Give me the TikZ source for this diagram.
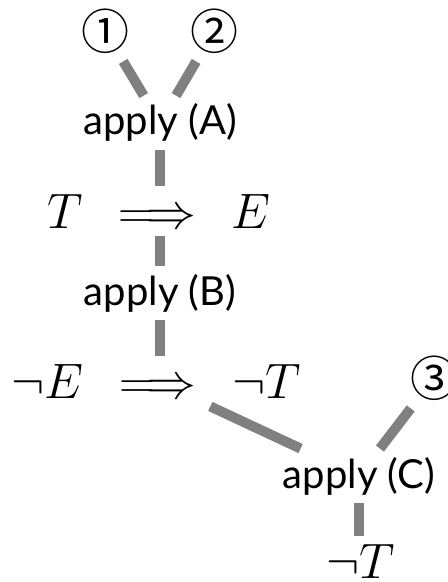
\documentclass[tikz,border=0pt]{standalone}
\usepackage{amsmath}
\usepackage[no-math]{fontspec}
\setmainfont{Lato}
\newfontfamily\circfont{Noto Sans CJK JP}

\begin{document}
\begin{tikzpicture}[
    x=0.5pt, y=-0.5pt,
    link/.style={line width=5pt, black!50},
    lbl/.style={font=\fontsize{20}{24}\selectfont, inner sep=4pt, anchor=base},
    frm/.style={font=\fontsize{24.88}{30}\selectfont, inner sep=4pt, anchor=base},
    srcmark/.style={font=\fontsize{24}{28}\selectfont\circfont, inner sep=2pt,
                    minimum height=30pt},
]
\useasboundingbox (0,0) rectangle (448,582);

% Premises
\node[srcmark] (one) at (105, 31) {①};
\node[srcmark] (two) at (214, 31) {②};
\node[srcmark] (three) at (434, 378) {③};

% Steps
\node[lbl] (applyA) at (160, 135) {apply (A)};
\node[frm] (impTE) at (159, 228) {$T \,\implies\, E$};
\node[lbl] (applyB) at (160, 305) {apply (B)};
\node[frm] (impNE) at (156, 398) {$\neg E \,\implies\, \neg T$};
\node[lbl] (applyC) at (359, 488) {apply (C)};
\node[frm] (negT) at (361, 578) {$\neg T$};

% Links
\draw[link] (one) -- (applyA);
\draw[link] (two) -- (applyA);
\draw[link] (applyA.south) -- (applyA.south |- impTE.north);
\draw[link] (impTE.south -| applyB) -- (applyB.north);
\draw[link] (applyB.south) -- (applyB.south |- impNE.north);
\draw[link] (impNE) -- (applyC);
\draw[link] (three) -- (applyC);
\draw[link] (applyC.south) -- (applyC.south |- negT.north);

\end{tikzpicture}
\end{document}
